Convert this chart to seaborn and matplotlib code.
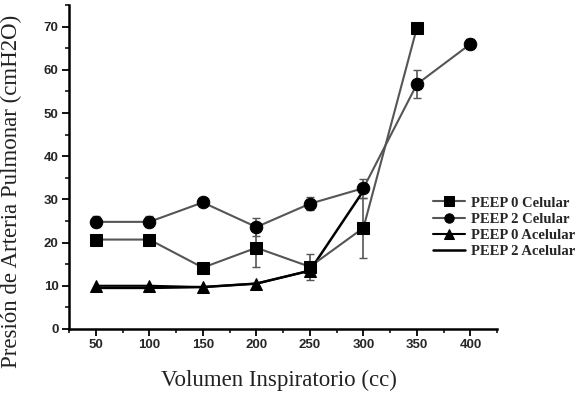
import matplotlib
matplotlib.use('Agg')
import matplotlib.pyplot as plt
from matplotlib.ticker import MultipleLocator
import numpy as np
import pandas as pd
import seaborn as sns

# volumen inspiratorio (cc)
volumen = [50, 100, 150, 200, 250, 300, 350, 400]

peep0_cel = [20.7, 20.7, 14.2, 18.8, 14.4, 23.4, 69.8]
peep0_cel_err = [0.6, 0.6, 1.0, 4.5, 3.0, 7.0, 0.0]
peep2_cel = [24.8, 24.8, 29.3, 23.6, 29.0, 32.6, 56.7, 66.0]
peep2_cel_err = [1.3, 1.3, 0.5, 2.0, 1.5, 2.2, 3.2, 1.2]
peep0_acel = [10.0, 10.0, 9.7, 10.5, 13.5]
peep2_acel = [9.5, 9.5, 9.7, 10.5, 13.5, 32.0]

serif = 'Liberation Serif'
sns.set_style('ticks')

fig = plt.figure(figsize=(5.85, 3.93), dpi=100)
ax = fig.add_axes([0.118, 0.163, 0.732, 0.824])

gray = '#555555'
ax.errorbar(volumen[:7], peep0_cel, yerr=peep0_cel_err, fmt='none',
            ecolor=gray, elinewidth=1.2, capsize=3, zorder=2)
ax.errorbar(volumen, peep2_cel, yerr=peep2_cel_err, fmt='none',
            ecolor=gray, elinewidth=1.2, capsize=3, zorder=2)

sns.lineplot(x=volumen[:6], y=peep2_acel, ax=ax, color='black', lw=1.8,
             label='PEEP 2 Acelular', zorder=3)
sns.lineplot(x=volumen[:5], y=peep0_acel, ax=ax, color='black', lw=1.5,
             marker='^', markersize=9, markeredgecolor='black',
             label='PEEP 0 Acelular', zorder=3)
sns.lineplot(x=volumen[:7], y=peep0_cel, ax=ax, color=gray, lw=1.5,
             marker='s', markersize=9, markerfacecolor='black',
             markeredgecolor='black', label='PEEP 0 Celular', zorder=4)
sns.lineplot(x=volumen, y=peep2_cel, ax=ax, color=gray, lw=1.5,
             marker='o', markersize=9, markerfacecolor='black',
             markeredgecolor='black', label='PEEP 2 Celular', zorder=4)

ax.set_xlim(25, 425)
ax.set_ylim(0, 75)
ax.xaxis.set_major_locator(MultipleLocator(50))
ax.xaxis.set_minor_locator(MultipleLocator(25))
ax.yaxis.set_minor_locator(MultipleLocator(5))
ax.set_yticks(range(0, 71, 10))
ax.tick_params(which='major', direction='out', length=5, width=1.3,
               labelsize=9.5, color='black', pad=2.5)
ax.tick_params(which='minor', direction='out', length=3, width=1.1,
               color='black')
for lab in ax.get_xticklabels() + ax.get_yticklabels():
    lab.set_fontweight('bold')
    lab.set_family('Liberation Sans')

for s in ['top', 'right']:
    ax.spines[s].set_visible(False)
for s in ['left', 'bottom']:
    ax.spines[s].set_linewidth(1.8)
    ax.spines[s].set_color('black')

ax.set_xlabel('Volumen Inspiratorio (cc)', family=serif, fontsize=16.5,
              color='#222222')
ax.xaxis.set_label_coords(0.49, -0.125)
ax.set_ylabel('Presión de Arteria Pulmonar (cmH2O)', family=serif,
              fontsize=16.5, color='#222222')
ax.yaxis.set_label_coords(-0.11, 0.426)

h, l = ax.get_legend_handles_labels()
order = ['PEEP 0 Celular', 'PEEP 2 Celular', 'PEEP 0 Acelular', 'PEEP 2 Acelular']
hd = dict(zip(l, h))
ax.legend([hd[k] for k in order], order, frameon=False,
          prop={'family': serif, 'size': 10.5, 'weight': 'bold'},
          loc='upper left', bbox_to_anchor=(0.82, 0.45),
          handlelength=2.2, labelspacing=0.2, handletextpad=0.4,
          markerscale=0.75)

fig.savefig('out.png', dpi=100)
